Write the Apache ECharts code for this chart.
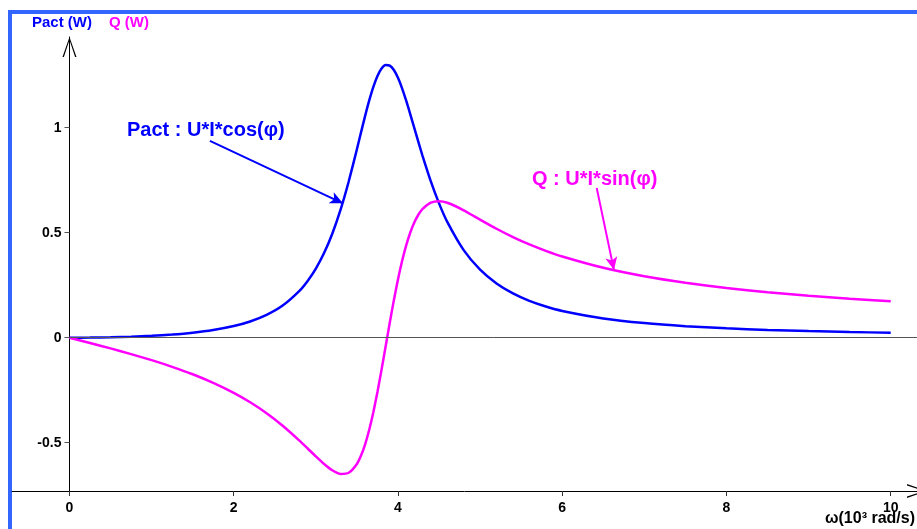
<!DOCTYPE html>
<html>
<head>
<meta charset="utf-8">
<script src="https://cdn.jsdelivr.net/npm/echarts@6/dist/echarts.min.js"></script>
<style>
html,body{margin:0;padding:0;background:#fff;}
#chart{width:917px;height:529px;}
</style>
</head>
<body>
<div id="chart"></div>
<script>
// angular frequency, 10^3 rad/s
var omega = [0, 0.25, 0.5, 0.75, 1, 1.25, 1.5, 1.75, 2, 2.2, 2.4, 2.6, 2.8, 2.9, 3, 3.1, 3.2, 3.3, 3.4, 3.5, 3.55, 3.6, 3.65, 3.7, 3.75, 3.8, 3.85, 3.9, 3.95, 4, 4.05, 4.1, 4.15, 4.2, 4.25, 4.3, 4.4, 4.5, 4.6, 4.8, 5, 5.2, 5.4, 5.6, 5.8, 6, 6.5, 7, 7.5, 8, 8.5, 9, 9.5, 10];
// active power Pact (W)
var pact = [0, 0.0005, 0.002, 0.0047, 0.0089, 0.015, 0.0238, 0.0366, 0.0555, 0.0773, 0.1085, 0.1542, 0.2229, 0.2702, 0.3292, 0.403, 0.4951, 0.6083, 0.7439, 0.8977, 0.9777, 1.0562, 1.1299, 1.1946, 1.2465, 1.282, 1.2987, 1.296, 1.2749, 1.2376, 1.1876, 1.1286, 1.064, 0.997, 0.93, 0.8649, 0.7443, 0.6398, 0.5517, 0.4172, 0.3241, 0.2584, 0.2109, 0.1755, 0.1486, 0.1276, 0.0918, 0.0697, 0.055, 0.0447, 0.0372, 0.0315, 0.0271, 0.0236];
// reactive power Q (W)
var q = [0, -0.0252, -0.051, -0.0781, -0.107, -0.1387, -0.1742, -0.215, -0.2627, -0.3075, -0.3596, -0.4203, -0.49, -0.5275, -0.5653, -0.6012, -0.6312, -0.6487, -0.6432, -0.601, -0.5614, -0.5074, -0.4384, -0.3548, -0.2583, -0.152, -0.0404, 0.0716, 0.1789, 0.2777, 0.3653, 0.4398, 0.5011, 0.5497, 0.5866, 0.6135, 0.6431, 0.6499, 0.6425, 0.6069, 0.5624, 0.5188, 0.4792, 0.4443, 0.4137, 0.3868, 0.333, 0.2927, 0.2617, 0.2369, 0.2168, 0.2, 0.1858, 0.1737];
var xTicks = [0, 2, 4, 6, 8, 10];
var yTicks = [-0.5, 0, 0.5, 1];
// annotation arrows: [from, to] in data coords
var pactArrow = [[1.71, 0.937], [3.33, 0.64]];
var qArrow = [[6.42, 0.713], [6.63, 0.322]];

var X_MIN = -0.7, X_MAX = 10.32, Y_MIN = -0.73, Y_MAX = 1.432;
var GRID_L = 12, GRID_R = 0, GRID_T = 37, GRID_B = 38;
var BLUE = '#0000ff', MAG = '#ff00ff';
var chev = 'path://M0,20 L7,0 L14,20 L12.6,20 L7,3 L1.4,20 Z';

function pairs(xs, ys){ return xs.map(function(x,i){ return [x, ys[i]]; }); }

// pixel distance from grid left edge to x = 0 (where the y axis sits)
var plotW = 917 - GRID_L - GRID_R;
var yAxisShift = (0 - X_MIN) / (X_MAX - X_MIN) * plotW;

var chart = echarts.init(document.getElementById('chart'), null, {renderer:'canvas'});
chart.setOption({
  animation: false,
  backgroundColor: '#fff',
  grid: {left: GRID_L, right: GRID_R, top: GRID_T, bottom: GRID_B, containLabel: false, outerBoundsMode: 'none'},
  xAxis: {
    type: 'value', min: X_MIN, max: X_MAX,
    axisLine: {onZero: false, lineStyle: {color: '#000', width: 1}, symbol: ['none', chev], symbolSize: [14, 20], symbolOffset: [0, 0]},
    axisTick: {show: true, length: 5, customValues: xTicks, lineStyle: {color: '#333'}},
    axisLabel: {customValues: xTicks, margin: 10, color: '#000', fontFamily: 'Liberation Sans', fontWeight: 'bold', fontSize: 14},
    splitLine: {show: false}
  },
  yAxis: {
    type: 'value', min: Y_MIN, max: Y_MAX, offset: -yAxisShift,
    axisLine: {onZero: false, lineStyle: {color: '#000', width: 1}, symbol: ['none', chev], symbolSize: [14, 20], symbolOffset: [0, -10]},
    axisTick: {show: true, length: 5, customValues: yTicks, lineStyle: {color: '#555'}},
    axisLabel: {customValues: yTicks, margin: 8, color: '#000', fontFamily: 'Liberation Sans', fontWeight: 'bold', fontSize: 14},
    splitLine: {show: false}
  },
  series: [
    {
      type: 'line', name: 'Pact', data: pairs(omega, pact), smooth: 0.2, showSymbol: false,
      lineStyle: {color: BLUE, width: 2.5}, itemStyle: {color: BLUE}, z: 3,
      markLine: {
        silent: true, animation: false,
        data: [
          [{coord: [0, 0], symbol: 'none', lineStyle: {color: '#555', width: 1, type: 'solid'}}, {coord: [X_MAX, 0], symbol: 'none'}],
          [{coord: pactArrow[0], symbol: 'none', lineStyle: {color: BLUE, width: 2, type: 'solid'}}, {coord: pactArrow[1], symbol: 'arrow', symbolSize: [9, 13]}]
        ],
        label: {show: false}
      }
    },
    {
      type: 'line', name: 'Q', data: pairs(omega, q), smooth: 0.2, showSymbol: false,
      lineStyle: {color: MAG, width: 2.5}, itemStyle: {color: MAG}, z: 3,
      markLine: {
        silent: true, animation: false,
        data: [
          [{coord: qArrow[0], symbol: 'none', lineStyle: {color: MAG, width: 2, type: 'solid'}}, {coord: qArrow[1], symbol: 'arrow', symbolSize: [9, 13]}]
        ],
        label: {show: false}
      }
    }
  ],
  graphic: [
    {type: 'rect', shape: {x: 8, y: 10, width: 4, height: 519}, style: {fill: '#3366ff'}, silent: true},
    {type: 'rect', shape: {x: 8, y: 10, width: 909, height: 4}, style: {fill: '#3366ff'}, silent: true},
    {type: 'text', style: {x: 32, y: 23, text: 'Pact (W)', font: 'bold 15px "Liberation Sans"', fill: BLUE, verticalAlign: 'middle'}},
    {type: 'text', style: {x: 109, y: 23, text: 'Q (W)', font: 'bold 15px "Liberation Sans"', fill: MAG, verticalAlign: 'middle'}},
    {type: 'text', style: {x: 127, y: 130, text: 'Pact : U*I*cos(φ)', font: 'bold 20px "Liberation Sans"', fill: BLUE, verticalAlign: 'middle'}},
    {type: 'text', style: {x: 532, y: 179, text: 'Q : U*I*sin(φ)', font: 'bold 20px "Liberation Sans"', fill: MAG, verticalAlign: 'middle'}},
    {type: 'text', style: {x: 825, y: 519, text: 'ω(10³ rad/s)', font: 'bold 16px "Liberation Sans"', fill: '#000', verticalAlign: 'middle'}}
  ]
});
</script>
</body>
</html>
